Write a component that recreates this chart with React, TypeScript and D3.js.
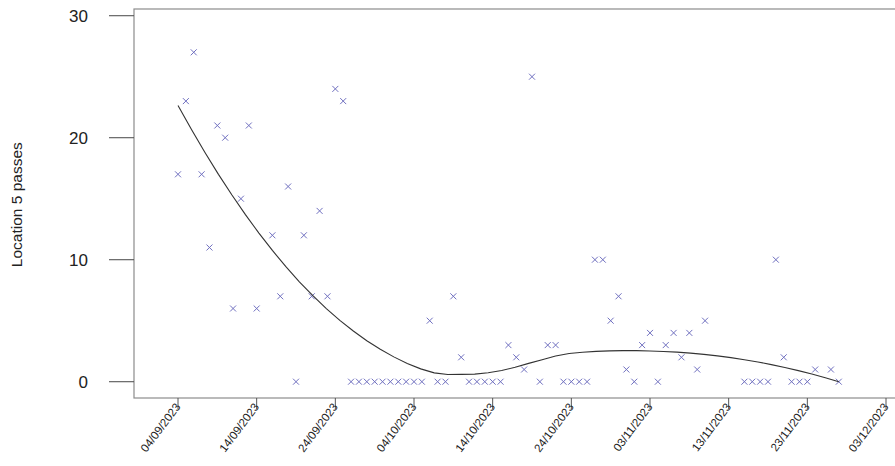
import React from "react";
import * as d3 from "d3";

// daily observations (dd/mm/yyyy) and passes counted at location 5
const dates = [
  "04/09/2023", "05/09/2023", "06/09/2023", "07/09/2023", "08/09/2023", "09/09/2023", "10/09/2023",
  "11/09/2023", "12/09/2023", "13/09/2023", "14/09/2023", "16/09/2023", "17/09/2023", "18/09/2023",
  "19/09/2023", "20/09/2023", "21/09/2023", "22/09/2023", "23/09/2023", "24/09/2023", "25/09/2023",
  "26/09/2023", "27/09/2023", "28/09/2023", "29/09/2023", "30/09/2023", "01/10/2023", "02/10/2023",
  "03/10/2023", "04/10/2023", "05/10/2023", "06/10/2023", "07/10/2023", "08/10/2023", "09/10/2023",
  "10/10/2023", "11/10/2023", "12/10/2023", "13/10/2023", "14/10/2023", "15/10/2023", "16/10/2023",
  "17/10/2023", "18/10/2023", "19/10/2023", "20/10/2023", "21/10/2023", "22/10/2023", "23/10/2023",
  "24/10/2023", "25/10/2023", "26/10/2023", "27/10/2023", "28/10/2023", "29/10/2023", "30/10/2023",
  "31/10/2023", "01/11/2023", "02/11/2023", "03/11/2023", "04/11/2023", "05/11/2023", "06/11/2023",
  "07/11/2023", "08/11/2023", "09/11/2023", "10/11/2023", "15/11/2023", "16/11/2023", "17/11/2023",
  "18/11/2023", "19/11/2023", "20/11/2023", "21/11/2023", "22/11/2023", "23/11/2023", "24/11/2023",
  "26/11/2023", "27/11/2023",
];
const passes = [
  17, 23, 27, 17, 11, 21, 20,
  6, 15, 21, 6, 12, 7, 16,
  0, 12, 7, 14, 7, 24, 23,
  0, 0, 0, 0, 0, 0, 0,
  0, 0, 0, 5, 0, 0, 7,
  2, 0, 0, 0, 0, 0, 3,
  2, 1, 25, 0, 3, 3, 0,
  0, 0, 0, 10, 10, 5, 7,
  1, 0, 3, 4, 0, 3, 4,
  2, 4, 1, 5, 0, 0, 0,
  0, 10, 2, 0, 0, 0, 1,
  1, 0,
];
const xTickLabels = [
  "04/09/2023", "14/09/2023", "24/09/2023", "04/10/2023", "14/10/2023",
  "24/10/2023", "03/11/2023", "13/11/2023", "23/11/2023", "03/12/2023",
];
const yTicks = [0, 10, 20, 30];

const parseDate = d3.utcParse("%d/%m/%Y");
const DAY = 86400000;

// one local quadratic fit at x0 with tricube * robustness weights
function localFit(xs: number[], ys: number[], rw: number[], x0: number, span: number, degree: number) {
  const n = xs.length;
  const dist = xs.map((x) => Math.abs(x - x0));
  const h = d3.sort(dist)[Math.floor(n * span) - 1];
  const k = degree + 1;
  const A = Array.from({ length: k }, () => new Array(k).fill(0));
  const b = new Array(k).fill(0);
  for (let i = 0; i < n; i++) {
    const u = dist[i] / h;
    if (u >= 1) continue;
    const w = Math.pow(1 - u * u * u, 3) * rw[i];
    const t = xs[i] - x0;
    const p = Array.from({ length: k }, (_, j) => Math.pow(t, j));
    for (let r = 0; r < k; r++) {
      b[r] += w * p[r] * ys[i];
      for (let c = 0; c < k; c++) A[r][c] += w * p[r] * p[c];
    }
  }
  for (let c = 0; c < k; c++) {
    let piv = c;
    for (let r = c + 1; r < k; r++) if (Math.abs(A[r][c]) > Math.abs(A[piv][c])) piv = r;
    [A[c], A[piv]] = [A[piv], A[c]];
    [b[c], b[piv]] = [b[piv], b[c]];
    for (let r = c + 1; r < k; r++) {
      const f = A[r][c] / A[c][c];
      for (let j = c; j < k; j++) A[r][j] -= f * A[c][j];
      b[r] -= f * b[c];
    }
  }
  const coef = new Array(k).fill(0);
  for (let r = k - 1; r >= 0; r--) {
    let s = b[r];
    for (let j = r + 1; j < k; j++) s -= A[r][j] * coef[j];
    coef[r] = s / A[r][r];
  }
  return coef[0];
}

// loess smoother with robustness reweighting (bisquare on residuals)
function loess(xs: number[], ys: number[], at: number[], span: number, degree: number, iters: number) {
  let rw = xs.map(() => 1);
  for (let it = 0; it < iters; it++) {
    const fitted = xs.map((x0) => localFit(xs, ys, rw, x0, span, degree));
    const res = ys.map((v, i) => Math.abs(v - fitted[i]));
    const cmad = 6 * (d3.median(res) as number);
    rw = res.map((r) => {
      const u = r / cmad;
      return u < 1 ? Math.pow(1 - u * u, 2) : 0;
    });
  }
  return at.map((x0) => localFit(xs, ys, rw, x0, span, degree));
}

const App = () => {
  const width = 895;
  const height = 466;
  const box = { left: 134, right: 910, top: 9, bottom: 398 };

  const tickDates = xTickLabels.map((d) => parseDate(d) as Date);
  const x = d3.scaleUtc().domain([tickDates[0], tickDates[tickDates.length - 1]]).range([178, 886]);
  const y = d3.scaleLinear().domain([0, 30]).range([381.7, 15.7]);

  const points = dates.map((d, i) => ({ date: parseDate(d) as Date, value: passes[i] }));
  const t0 = points[0].date.getTime();
  const xs = points.map((p) => (p.date.getTime() - t0) / DAY);
  const ys = points.map((p) => p.value);
  const grid = d3.range(50).map((i) => xs[0] + (i * (xs[xs.length - 1] - xs[0])) / 49);
  const fit = loess(xs, ys, grid, 0.85, 2, 1);
  const smooth = d3.line()(grid.map((g, i) => [x(new Date(t0 + g * DAY)), y(fit[i])] as [number, number])) ?? "";

  const s = 3; // half size of the x marker

  return (
    <svg
      width={width}
      height={height}
      style={{ position: "absolute", left: 0, top: 0, background: "#fff" }}
      fontFamily="'Liberation Sans', Arial, sans-serif"
    >
      <rect x={box.left} y={box.top} width={box.right - box.left} height={box.bottom - box.top}
        fill="none" stroke="#8c8c8c" strokeWidth={1.2} />

      {yTicks.map((t) => (
        <g key={t}>
          <line x1={109} x2={box.left} y1={y(t)} y2={y(t)} stroke="#555" strokeWidth={1.1} />
          <text x={88} y={y(t)} dy="0.36em" textAnchor="end" fontSize={17} fill="#222">{t}</text>
        </g>
      ))}
      <text transform={`translate(22,${(y(0) + y(30)) / 2 + 6}) rotate(-90)`} textAnchor="middle"
        fontSize={15.5} fill="#222">Location 5 passes</text>

      {tickDates.map((d, i) => (
        <g key={xTickLabels[i]}>
          <line x1={x(d)} x2={x(d)} y1={box.bottom} y2={box.bottom + 11} stroke="#555" strokeWidth={1} />
          <text transform={`translate(${x(d) + 3},${box.bottom + 9}) rotate(-53)`} textAnchor="end"
            fontSize={11.5} fill="#222">{xTickLabels[i]}</text>
        </g>
      ))}

      {points.map((p, i) => {
        const cx = x(p.date);
        const cy = y(p.value);
        return (
          <path key={i} d={`M${cx - s},${cy - s}L${cx + s},${cy + s}M${cx - s},${cy + s}L${cx + s},${cy - s}`}
            stroke="#7070c0" strokeWidth={1} fill="none" />
        );
      })}

      <path d={smooth} fill="none" stroke="#333" strokeWidth={1.1} />
    </svg>
  );
};

export default App;
